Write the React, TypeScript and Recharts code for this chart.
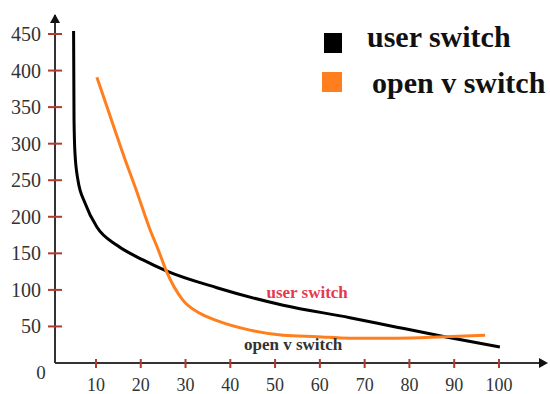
import { LineChart, Line, XAxis, YAxis, Legend } from 'recharts';

// values
const userX = [5.0, 5.1, 5.31, 5.98, 7.55, 10.2, 14.7, 20.5, 25.7, 37.0, 51.8, 66.7, 77.2, 87.9, 100.2];
const userY = [454, 332, 287, 250, 219, 186, 161, 141, 126, 103, 79, 62, 49, 36, 22];
const ovsX = [10.2, 13.1, 16.0, 19.2, 22.1, 23.9, 25.7, 29.4, 33.2, 37.0, 44.4, 51.8, 59.4, 66.7, 77.2, 87.9, 96.9];
const ovsY = [391, 339, 287, 233, 182, 155, 126, 86, 68, 58, 45, 38, 36, 34, 34, 36, 38];
const xTicks = [10, 20, 30, 40, 50, 60, 70, 80, 90, 100];
const yTicks = [0, 50, 100, 150, 200, 250, 300, 350, 400, 450];
const seriesNames = ['user switch', 'open v switch'];

const userData = userX.map((x, i) => ({ x, y: userY[i] }));
const ovsData = ovsX.map((x, i) => ({ x, y: ovsY[i] }));

const SERIF = '"Liberation Serif", "Times New Roman", serif';
const TICK_RED = '#b5392c';
const AXIS = '#333';
const ORANGE = '#ff7f1e';
const LABEL_COLOR = '#333';

const YTick = (props: any) => {
  const { y, payload } = props;
  const ax = 55;
  if (payload.value === 0) {
    return (
      <text x={41} y={y + 9} textAnchor="middle" dominantBaseline="central"
        fontFamily={SERIF} fontSize={19} fill={LABEL_COLOR}>0</text>
    );
  }
  return (
    <g>
      <line x1={ax - 7} x2={ax + 7} y1={y} y2={y} stroke={TICK_RED} strokeWidth={2} />
      <text x={41} y={y} textAnchor="end" dominantBaseline="central"
        fontFamily={SERIF} fontSize={20} fill={LABEL_COLOR}>{payload.value}</text>
    </g>
  );
};

const XTick = (props: any) => {
  const { x, payload } = props;
  const ay = 363;
  return (
    <g>
      <line x1={x} x2={x} y1={ay - 4} y2={ay + 5} stroke={TICK_RED} strokeWidth={2} />
      <text x={x} y={ay + 22} textAnchor="middle" dominantBaseline="central"
        fontFamily={SERIF} fontSize={18} fill={LABEL_COLOR}>{payload.value}</text>
    </g>
  );
};

const YArrow = (props: any) => {
  const vb = props.viewBox || {};
  const cx = vb.x + vb.width;
  const top = vb.y - 1;
  return <path d={`M${cx} ${top} L${cx - 5} ${top + 9} L${cx + 5} ${top + 9} Z`} fill="#111" />;
};

const XArrow = (props: any) => {
  const vb = props.viewBox || {};
  const tip = vb.x + vb.width + 2;
  const cy = vb.y;
  return <path d={`M${tip} ${cy} L${tip - 9} ${cy - 5} L${tip - 9} ${cy + 5} Z`} fill="#111" />;
};

const LegendBox = () => (
  <div style={{ height: 0, overflow: 'visible' }}>
    <svg width={232} height={80} style={{ overflow: 'visible', display: 'block' }}>
      <rect x={6} y={8} width={18} height={20} fill="#000" />
      <text x={49} y={22} fontFamily={SERIF} fontWeight="bold" fontSize={30} fill="#111">{seriesNames[0]}</text>
      <rect x={4} y={47} width={20} height={20} fill={ORANGE} />
      <text x={54} y={68} fontFamily={SERIF} fontWeight="bold" fontSize={30} fill="#111">{seriesNames[1]}</text>
    </svg>
  </div>
);

const userLabel = (props: any) => {
  if (props.index !== 10) return <g />;
  return (
    <text x={props.x + 24} y={props.y - 13} textAnchor="middle" dominantBaseline="central"
      fontFamily={SERIF} fontWeight="bold" fontSize={17} fill="#e63950">{seriesNames[0]}</text>
  );
};

const ovsLabel = (props: any) => {
  if (props.index !== 11) return <g />;
  return (
    <text x={props.x + 10} y={props.y + 9} textAnchor="middle" dominantBaseline="central"
      fontFamily={SERIF} fontWeight="bold" fontSize={17} fill="#333">{seriesNames[1]}</text>
  );
};

export default function App() {
  return (
    <div style={{ width: 550, height: 394, background: '#fff' }}>
      <style>{'body{margin:0}'}</style>
      <LineChart width={550} height={394} margin={{ top: 15, right: 4, bottom: 0, left: 0 }}>
        <XAxis
          type="number"
          dataKey="x"
          domain={[0.85, 110.5]}
          ticks={xTicks}
          tick={<XTick />}
          tickLine={false}
          axisLine={{ stroke: AXIS, strokeWidth: 2 }}
          height={31}
          interval={0}
          label={<XArrow />}
        />
        <YAxis
          type="number"
          dataKey="y"
          domain={[0, 476]}
          ticks={yTicks}
          tick={<YTick />}
          tickLine={false}
          axisLine={{ stroke: AXIS, strokeWidth: 2 }}
          width={55}
          interval={0}
          label={<YArrow />}
        />
        <Legend
          verticalAlign="top"
          align="right"
          content={<LegendBox />}
          wrapperStyle={{ position: 'absolute', top: 25, left: 318, width: 232, height: 0, overflow: 'visible' }}
        />
        <Line
          data={userData}
          dataKey="y"
          name={seriesNames[0]}
          type="monotone"
          stroke="#000"
          strokeWidth={3}
          dot={false}
          label={userLabel}
          isAnimationActive={false}
        />
        <Line
          data={ovsData}
          dataKey="y"
          name={seriesNames[1]}
          type="monotone"
          stroke={ORANGE}
          strokeWidth={3}
          dot={false}
          label={ovsLabel}
          isAnimationActive={false}
        />
      </LineChart>
    </div>
  );
}
